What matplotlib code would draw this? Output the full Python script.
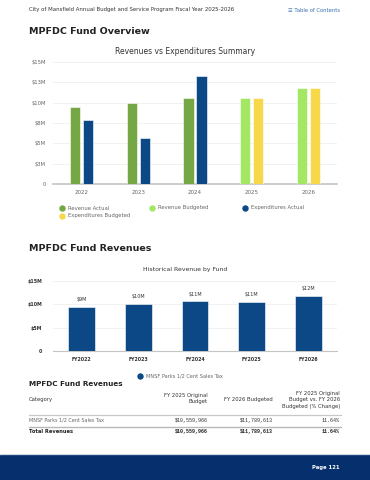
import matplotlib
matplotlib.use("Agg")
import matplotlib.pyplot as plt
import numpy as np
from matplotlib.patches import Rectangle
from matplotlib.lines import Line2D

# ---- data ----
years = ["2022", "2023", "2024", "2025", "2026"]
revenue_actual = [9.45, 10.0, 10.6, np.nan, np.nan]
revenue_budgeted = [np.nan, np.nan, np.nan, 10.56, 11.79]
expenditures_actual = [7.85, 5.65, 13.25, np.nan, np.nan]
expenditures_budgeted = [np.nan, np.nan, np.nan, 10.56, 11.79]
y_ticks1 = [0, 2.5, 5, 7.5, 10, 12.5, 15]
y_labels1 = ["0", "$3M", "$5M", "$8M", "$10M", "$13M", "$15M"]

fy_labels = ["FY2022", "FY2023", "FY2024", "FY2025", "FY2026"]
hist_revenue = [9.4, 10.02, 10.6, 10.56, 11.79]
hist_bar_labels = ["$9M", "$10M", "$11M", "$11M", "$12M"]
y_ticks2 = [0, 5, 10, 15]
y_labels2 = ["0", "$5M", "$10M", "$15M"]

table_header = ["Category", "FY 2025 Original\nBudget", "FY 2026 Budgeted",
                "FY 2025 Original\nBudget vs. FY 2026\nBudgeted (% Change)"]
table_rows = [["MNSF Parks 1/2 Cent Sales Tax", "$10,559,966", "$11,789,613", "11.64%"]]
table_total = ["Total Revenues", "$10,559,966", "$11,789,613", "11.64%"]

C_RA = "#75a744"
C_RB = "#a4e763"
C_EA = "#0b4885"
C_EB = "#f8d84b"
NAVY = "#062f6e"
GRAY = "#666666"

W, H = 370, 480
fig = plt.figure(figsize=(3.7, 4.8), dpi=100)
plt.rcParams['font.family'] = ['DejaVu Sans']

def fx(x):
    return x / W

def fy(y):
    return 1 - y / H

# header
fig.text(fx(29), fy(10), "City of Mansfield Annual Budget and Service Program Fiscal Year 2025-2026",
         fontsize=3.9, color="#333333", va="center", ha="left")
fig.text(fx(340), fy(11), "\u2630 Table of Contents", fontsize=3.8, color="#3a6fb5",
         va="center", ha="right")
fig.text(fx(29), fy(32), "MPFDC Fund Overview", fontsize=6.8, fontweight="bold",
         color="#222222", va="center", ha="left")
fig.text(fx(185), fy(52), "Revenues vs Expenditures Summary", fontsize=5.5,
         color="#333333", va="center", ha="center")

# chart 1
ax1 = fig.add_axes([fx(53), fy(184), 284 / W, 122 / H])
x = np.arange(len(years))
bw = 0.18
off = 0.115
ax1.bar(x - off, revenue_actual, bw, color=C_RA, edgecolor="white", linewidth=0.4, zorder=3)
ax1.bar(x - off, revenue_budgeted, bw, color=C_RB, edgecolor="white", linewidth=0.4, zorder=3)
ax1.bar(x + off, expenditures_actual, bw, color=C_EA, edgecolor="white", linewidth=0.4, zorder=3)
ax1.bar(x + off, expenditures_budgeted, bw, color=C_EB, edgecolor="white", linewidth=0.4, zorder=3)
ax1.set_xlim(-0.5, 4.5)
ax1.set_ylim(0, 15)
ax1.set_yticks(y_ticks1)
ax1.set_yticklabels(y_labels1, fontsize=3.8, color=GRAY)
ax1.set_xticks(x)
ax1.set_xticklabels(years, fontsize=4.0, color=GRAY)
ax1.tick_params(length=0, pad=5)
ax1.tick_params(axis="x", pad=4)
ax1.grid(axis="y", color="#ececec", linewidth=0.5, zorder=0)
for s in ["top", "right", "left"]:
    ax1.spines[s].set_visible(False)
ax1.spines["bottom"].set_color("#c4c4c4")
ax1.spines["bottom"].set_linewidth(1.2)

# legend chart 1 (manual)
leg_items = [(62, 208, C_RA, "Revenue Actual"), (152, 208, C_RB, "Revenue Budgeted"),
             (245, 208, C_EA, "Expenditures Actual"), (62, 216, C_EB, "Expenditures Budgeted")]
for lx, ly, c, t in leg_items:
    fig.add_artist(Line2D([fx(lx)], [fy(ly)], marker="o", markersize=3.6, color=c,
                          linestyle="none", transform=fig.transFigure))
    fig.text(fx(lx + 6), fy(ly), t, fontsize=3.8, color=GRAY, va="center", ha="left")

# second section
fig.text(fx(29), fy(248), "MPFDC Fund Revenues", fontsize=6.8, fontweight="bold",
         color="#222222", va="center", ha="left")
fig.text(fx(185), fy(269), "Historical Revenue by Fund", fontsize=4.4,
         color="#333333", va="center", ha="center")

ax2 = fig.add_axes([fx(53), fy(351.3), 284 / W, 70.6 / H])
x2 = np.arange(len(fy_labels))
bars = ax2.bar(x2, hist_revenue, 0.475, color=C_EA, edgecolor="white", linewidth=0.4, zorder=3)
for b, lab in zip(bars, hist_bar_labels):
    ax2.annotate(lab, (b.get_x() + b.get_width() / 2, b.get_height()), xytext=(0, 3.5),
                 textcoords="offset points", ha="center", va="bottom", fontsize=3.5,
                 color="#333333")
ax2.set_xlim(-0.5, 4.5)
ax2.set_ylim(0, 15)
ax2.set_yticks(y_ticks2)
ax2.set_yticklabels(y_labels2, fontsize=3.4, color="#333333", fontweight="bold")
ax2.set_xticks(x2)
ax2.set_xticklabels(fy_labels, fontsize=3.4, color="#333333", fontweight="bold")
ax2.tick_params(length=0, pad=8)
ax2.tick_params(axis="x", pad=4)
ax2.grid(axis="y", color="#ececec", linewidth=0.5, zorder=0)
for s in ["top", "right", "left"]:
    ax2.spines[s].set_visible(False)
ax2.spines["bottom"].set_color("#c4c4c4")
ax2.spines["bottom"].set_linewidth(0.8)

fig.add_artist(Line2D([fx(140)], [fy(376)], marker="o", markersize=3.6, color=C_EA,
                      linestyle="none", transform=fig.transFigure))
fig.text(fx(146), fy(376), "MNSF Parks 1/2 Cent Sales Tax", fontsize=3.6, color=GRAY,
         va="center", ha="left")

# table
fig.text(fx(29), fy(384), "MPFDC Fund Revenues", fontsize=5.2, color="#222222",
         fontweight="semibold", va="center", ha="left")
col_x = [29, 208, 273, 340]
fig.text(fx(col_x[0]), fy(400), table_header[0], fontsize=3.8, color="#333333",
         va="center", ha="left")
fig.text(fx(col_x[1]), fy(398.5), table_header[1], fontsize=3.8, color="#333333",
         va="center", ha="right", multialignment="right", linespacing=1.45)
fig.text(fx(col_x[2]), fy(400), table_header[2], fontsize=3.8, color="#333333",
         va="center", ha="right")
fig.text(fx(col_x[3]), fy(400), table_header[3], fontsize=3.8, color="#333333",
         va="center", ha="right", multialignment="right", linespacing=1.45)
fig.add_artist(Line2D([fx(29), fx(341)], [fy(415), fy(415)], color="#c8c8c8", linewidth=0.9,
                      transform=fig.transFigure))
for r in table_rows:
    fig.text(fx(col_x[0]), fy(420.5), r[0], fontsize=3.5, color=GRAY, va="center", ha="left")
    for j in range(1, 4):
        fig.text(fx(col_x[j]), fy(420.5), r[j], fontsize=3.6, color="#333333", va="center",
                 ha="right", family="Liberation Mono")
fig.add_artist(Line2D([fx(29), fx(341)], [fy(426.5), fy(426.5)], color="#b8b8b8", linewidth=1.0,
                      transform=fig.transFigure))
fig.text(fx(col_x[0]), fy(431.5), table_total[0], fontsize=3.7, color="#222222",
         fontweight="bold", va="center", ha="left")
for j in range(1, 4):
    fig.text(fx(col_x[j]), fy(431.5), table_total[j], fontsize=3.6, color="#222222",
             va="center", ha="right", family="Liberation Mono", fontweight="bold")

# footer
fig.add_artist(Rectangle((0, 0), 1, 25 / H, transform=fig.transFigure, color=NAVY, zorder=0))
fig.add_artist(Line2D([0, 1], [fy(455.3), fy(455.3)], color="#2b4f86", linewidth=0.6,
                      transform=fig.transFigure))
fig.text(fx(340), fy(467), "Page 121", fontsize=3.8, color="white", fontweight="bold",
         va="center", ha="right")

fig.savefig("out.png", dpi=100)
